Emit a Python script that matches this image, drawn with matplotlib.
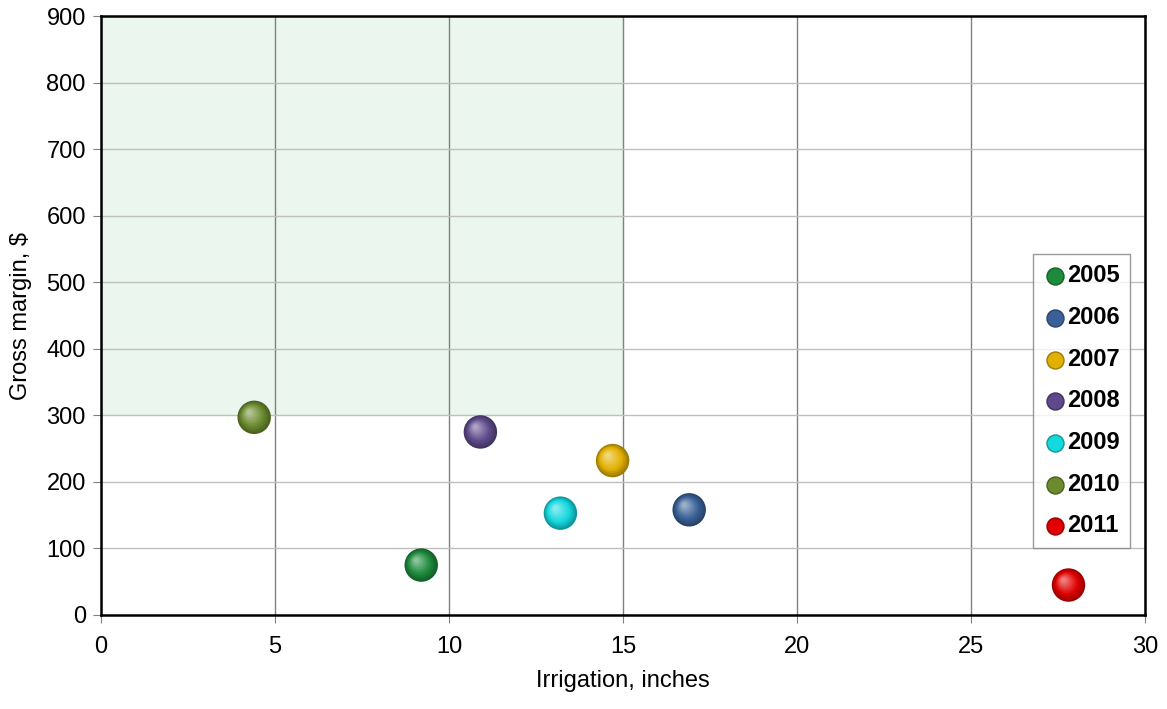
import numpy as np
import matplotlib
matplotlib.use('Agg')
import matplotlib.pyplot as plt
import matplotlib.colors as mcolors
from matplotlib.transforms import offset_copy

plt.rcParams['font.family'] = ['Liberation Sans', 'DejaVu Sans']

years = ['2005', '2006', '2007', '2008', '2009', '2010', '2011']
irrigation = [9.2, 16.9, 14.7, 10.9, 13.2, 4.4, 27.8]      # inches
margin = [75, 158, 232, 275, 153, 297, 45]                 # $
colors = ['#1E8A3C', '#3A6197', '#E3B000', '#5E4A8A', '#14D8DE', '#6B8A2E', '#E00000']

fig = plt.figure(figsize=(11.67, 7.09), dpi=100)
ax = fig.add_axes([0.0866, 0.1326, 0.8946, 0.8448])

# target zone: low water, good margin
ax.axvspan(0, 15, ymin=300 / 900, ymax=1, color='#EAF6EE', zorder=0)

ax.set_xlim(0, 30)
ax.set_ylim(0, 900)
ax.set_xticks(np.arange(0, 31, 5))
ax.set_yticks(np.arange(0, 901, 100))
ax.yaxis.grid(True, color='#BFBFBF', lw=1)
ax.xaxis.grid(True, color='#808080', lw=1)
ax.set_axisbelow(True)
for s in ax.spines.values():
    s.set_color('black')
    s.set_linewidth(1.8)
ax.tick_params(direction='out', length=6, color='#808080', labelsize=17, pad=5)
ax.tick_params(axis='x', pad=9)
ax.set_xlabel('Irrigation, inches', fontsize=17, labelpad=9)
ax.set_ylabel('Gross margin, $', fontsize=17, labelpad=10)


def sphere(x, y, c, s, nlay=10):
    # fake shaded ball: darker rim fading to a light spot up-left
    base = np.array(mcolors.to_rgb(c))
    for i in range(nlay):
        f = i / (nlay - 1)
        if f < 0.35:
            col = base * (0.7 + 0.3 * f / 0.35)
        else:
            col = base + (1 - base) * (f - 0.35) * 0.75
        col = np.clip(col, 0, 1)
        tr = offset_copy(ax.transData, fig=fig, x=-3.5 * f, y=3.5 * f, units='points')
        ax.scatter(x, y, s=s * (1 - 0.85 * f) ** 2, color=col, edgecolors='none',
                   transform=tr, zorder=3 + i)


for xv, yv, c, lab in zip(irrigation, margin, colors, years):
    sphere(xv, yv, c, 580)
    ax.scatter([], [], s=150, color=c, edgecolors=np.array(mcolors.to_rgb(c)) * 0.7,
               linewidths=1, label=lab)

leg = ax.legend(loc='upper right', bbox_to_anchor=(0.986, 0.603), frameon=True,
                fancybox=False, edgecolor='#808080', handletextpad=0.0,
                labelspacing=0.79, borderpad=0.45, handlelength=1.0,
                borderaxespad=0, prop={'weight': 'bold', 'size': 17})
leg.get_frame().set_linewidth(1)
leg.set_zorder(20)

fig.savefig('out.png', dpi=100)
